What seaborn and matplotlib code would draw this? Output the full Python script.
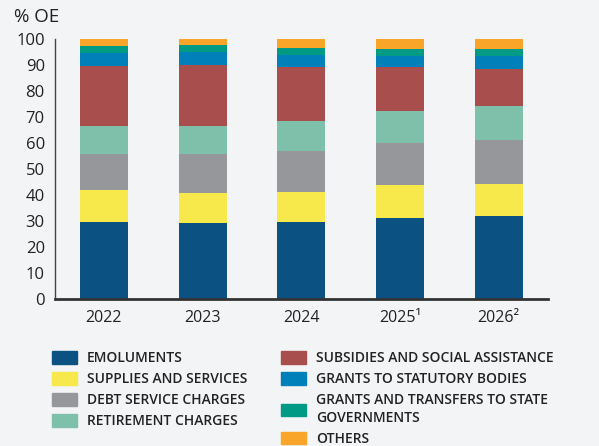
import numpy as np
import pandas as pd
import seaborn as sns
import matplotlib.pyplot as plt

# data (% of operating expenditure)
years = ["2022", "2023", "2024", "2025\u00b9", "2026\u00b2"]
emoluments = [29.7, 29.4, 29.7, 31.3, 32.1]
supplies = [12.3, 11.5, 11.6, 12.7, 12.3]
debt_service = [13.8, 15.0, 15.8, 16.1, 16.9]
retirement = [10.8, 10.8, 11.5, 12.3, 13.1]
subsidies = [23.2, 23.4, 20.8, 16.7, 14.2]
grants_statutory = [4.8, 5.0, 4.6, 4.5, 5.0]
grants_states = [2.7, 2.7, 2.7, 2.7, 2.7]
others = [2.7, 2.2, 3.3, 3.7, 3.7]

labels = ["EMOLUMENTS", "SUPPLIES AND SERVICES", "DEBT SERVICE CHARGES",
          "RETIREMENT CHARGES", "SUBSIDIES AND SOCIAL ASSISTANCE",
          "GRANTS TO STATUTORY BODIES",
          "GRANTS AND TRANSFERS TO STATE\nGOVERNMENTS", "OTHERS"]
colors = ["#0b5282", "#f7e94b", "#96979b", "#7fc0aa", "#a84f4e",
          "#0080b8", "#009a85", "#f9a52a"]

series = [emoluments, supplies, debt_service, retirement, subsidies,
          grants_statutory, grants_states, others]

bg = "#f3f4f6"
sns.set_style("white", {"axes.facecolor": bg, "figure.facecolor": bg})
plt.rcParams["font.family"] = ["Open Sans", "DejaVu Sans"]

fig = plt.figure(figsize=(5.99, 4.46), dpi=100)
ax = fig.add_axes([0.091, 0.3296, 0.824, 0.583])

# stacked bars, one seaborn call per category
bottom = np.zeros(len(years))
for vals, col in zip(series, colors):
    sns.barplot(x=years, y=vals, bottom=bottom, color=col, width=0.485,
                saturation=1, ax=ax, linewidth=0)
    bottom = bottom + np.array(vals)

ax.set_xlim(-0.5, 4.5)
ax.set_ylim(0, 100)
ax.set_yticks(range(0, 101, 10))
ax.set_xlabel("")
ax.set_ylabel("")
for s in ["top", "right"]:
    ax.spines[s].set_visible(False)
ax.spines["left"].set_color("#444444")
ax.spines["left"].set_linewidth(1.0)
ax.spines["bottom"].set_color("#333333")
ax.spines["bottom"].set_linewidth(2.0)
ax.tick_params(axis="y", direction="inout", length=10, width=1,
               color="#444444", labelsize=12, labelcolor="#222222", pad=2)
ax.tick_params(axis="x", length=0, labelsize=11.5, labelcolor="#222222", pad=8)

fig.text(0.023, 0.962, "% OE", fontsize=13.5, color="#222222", va="center")

handles = [plt.Rectangle((0, 0), 1, 1, color=c) for c in colors]
leg = fig.legend(handles, labels, ncol=2, loc="upper left",
                 bbox_to_anchor=(0.066, 0.24), frameon=False,
                 handlelength=1.8, handleheight=1.0,
                 handletextpad=0.72, labelspacing=0.5, columnspacing=2.4,
                 labelcolor="#222222",
                 prop={"weight": "semibold", "size": 10})
leg.get_texts()[6].set_linespacing(1.3)

fig.savefig("out.png", dpi=100, facecolor=bg)
